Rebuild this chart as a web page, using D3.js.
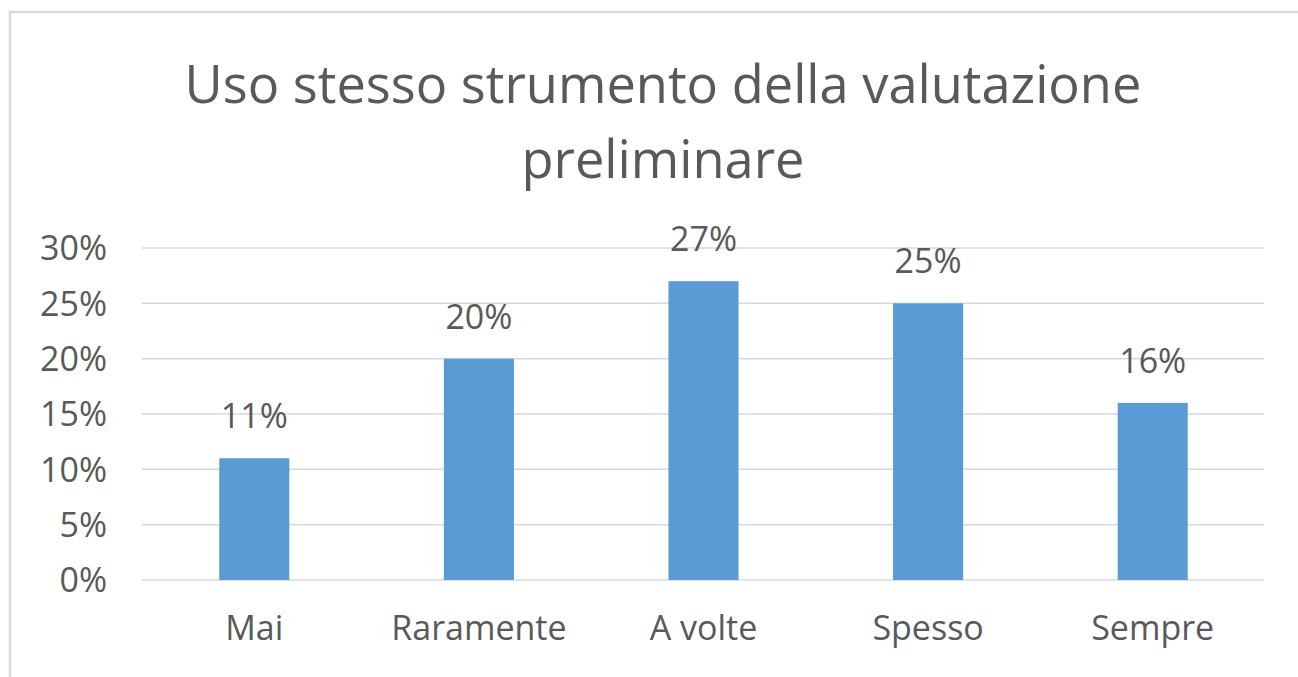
<!DOCTYPE html>
<html><head><meta charset="utf-8">
<script src="https://cdn.jsdelivr.net/npm/d3@7"></script>
<style>
html,body{margin:0;padding:0;background:#fff;overflow:hidden;}
text{font-family:"Open Sans",sans-serif;fill:#595959;}
</style></head>
<body>
<svg id="chart" width="1298" height="677"></svg>
<script>
const categories = ["Mai","Raramente","A volte","Spesso","Sempre"];
const values = [0.11,0.20,0.27,0.25,0.16];
const yTicks = [0,0.05,0.10,0.15,0.20,0.25,0.30];
const titleLines = ["Uso stesso strumento della valutazione","preliminare"];

const svg = d3.select("#chart");
// outer chart border
svg.append("rect").attr("x",10).attr("y",12).attr("width",1300).attr("height",700)
  .attr("fill","#fff").attr("stroke","#d9d9d9").attr("stroke-width",2.5);

const x = d3.scaleBand().domain(categories).range([142,1265])
  .paddingInner(0.688).paddingOuter(0.344);
const y = d3.scaleLinear().domain([0,0.30]).range([580,248]);

// gridlines
svg.append("g").selectAll("line").data(yTicks).join("line")
  .attr("x1",142).attr("x2",1264)
  .attr("y1",d=>y(d)).attr("y2",d=>y(d))
  .attr("stroke","#d9d9d9").attr("stroke-width",1.5);

// y axis labels
const yAxis = d3.axisLeft(y).tickValues(yTicks).tickFormat(d3.format(".0%")).tickSize(0).tickPadding(0);
const ya = svg.append("g").attr("transform","translate(107,0)").call(yAxis);
ya.select(".domain").remove();
ya.selectAll("text").style("font-size","34px").style("fill","#595959")
  .style("font-family","'Open Sans',sans-serif").attr("dy","0.35em");

// x axis labels
const xAxis = d3.axisBottom(x).tickSize(0).tickPadding(0);
const xa = svg.append("g").attr("transform","translate(0,640)").call(xAxis);
xa.select(".domain").remove();
xa.selectAll("text").style("font-size","34px").style("fill","#595959")
  .style("font-family","'Open Sans',sans-serif").attr("dy","0");

// bars
svg.append("g").selectAll("rect").data(values).join("rect")
  .attr("x",(d,i)=>x(categories[i])).attr("width",x.bandwidth())
  .attr("y",d=>y(d)).attr("height",d=>y(0)-y(d))
  .attr("fill","#5b9bd5");

// data labels
svg.append("g").selectAll("text").data(values).join("text")
  .attr("x",(d,i)=>x(categories[i])+x.bandwidth()/2)
  .attr("y",d=>y(d)-30)
  .attr("text-anchor","middle").style("font-size","34px")
  .text(d=>d3.format(".0%")(d));

// title
const t = svg.append("g").selectAll("text").data(titleLines).join("text")
  .attr("x",663).attr("y",(d,i)=>103+i*75)
  .attr("text-anchor","middle").style("font-size","56px")
  .text(d=>d);
const w = t.nodes()[0].getComputedTextLength();
const fs = 56*957/w;
t.style("font-size",fs+"px");
</script>
</body></html>
